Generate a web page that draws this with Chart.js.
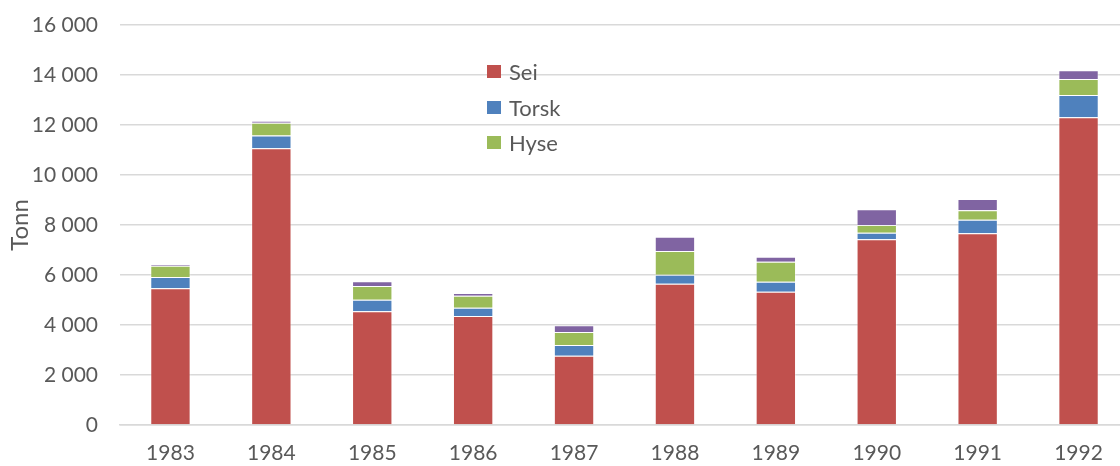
<!DOCTYPE html>
<html>
<head>
<meta charset="utf-8">
<script src="https://cdn.jsdelivr.net/npm/chart.js@4/dist/chart.umd.min.js"></script>
<style>
    html, body { margin: 0; padding: 0; background: #ffffff; overflow: hidden; }
    #wrap { position: relative; width: 1130px; height: 466px; }
    #legend { position: absolute; left: 487px; top: 54px; font-family: 'Lato', sans-serif; font-size: 22px; color: #595959; }
    .lg-item { display: flex; align-items: center; height: 35.5px; }
    .lg-box { width: 14px; height: 13px; margin-right: 8px; }
</style>
</head>
<body>
<div id="wrap">
    <canvas id="chart" width="1130" height="466"></canvas>
    <div id="legend"></div>
</div>
<script>
const years = ['1983', '1984', '1985', '1986', '1987', '1988', '1989', '1990', '1991', '1992'];
const sei   = [5470, 11070, 4550, 4360, 2770, 5650, 5330, 7430, 7670, 12310];
const torsk = [450, 510, 465, 330, 430, 360, 400, 265, 545, 890];
const hyse  = [450, 510, 545, 480, 520, 950, 800, 305, 375, 640];
const andre = [55, 80, 190, 110, 270, 570, 200, 630, 450, 350];
const yTicks = [0, 2000, 4000, 6000, 8000, 10000, 12000, 14000, 16000];
const legendNames = ['Sei', 'Torsk', 'Hyse'];

const colors = {
    sei: '#C0504D',
    torsk: '#4F81BD',
    hyse: '#9BBB59',
    andre: '#8064A2',
    text: '#595959',
    grid: '#d9d9d9'
};

Chart.defaults.font.family = "'Lato', sans-serif";
Chart.defaults.color = colors.text;

function fmt(v) {
    return String(v).replace(/\B(?=(\d{3})+(?!\d))/g, ' ');
}

function makeSet(label, data, color) {
    return {
        label: label,
        data: data,
        backgroundColor: color,
        borderColor: 'rgba(255,255,255,0.35)',
        borderWidth: 1,
        categoryPercentage: 1,
        barPercentage: 0.4
    };
}

const ctx = document.getElementById('chart').getContext('2d');
new Chart(ctx, {
    type: 'bar',
    data: {
        labels: years,
        datasets: [
            makeSet('Sei', sei, colors.sei),
            makeSet('Torsk', torsk, colors.torsk),
            makeSet('Hyse', hyse, colors.hyse),
            makeSet('Andre', andre, colors.andre)
        ]
    },
    options: {
        responsive: false,
        animation: false,
        layout: { padding: { top: 25, right: 1, left: 0, bottom: 0 } },
        plugins: {
            legend: { display: false },
            tooltip: { enabled: false }
        },
        scales: {
            x: {
                stacked: true,
                grid: { display: false },
                border: { display: true, color: colors.grid, width: 1.5 },
                ticks: { color: colors.text, font: { size: 21 }, padding: 8 },
                afterFit: s => { s.height = 41; }
            },
            y: {
                stacked: true,
                min: 0,
                max: 16000,
                afterBuildTicks: s => { s.ticks = yTicks.map(v => ({ value: v })); },
                grid: { color: colors.grid, lineWidth: 1.5, drawTicks: false },
                border: { display: false },
                ticks: {
                    color: colors.text,
                    font: { size: 21 },
                    padding: 22,
                    callback: v => fmt(v)
                },
                title: {
                    display: true,
                    text: 'Tonn',
                    color: colors.text,
                    font: { size: 24 },
                    padding: { top: 6, bottom: 0 }
                },
                // fixed axis width; tick padding should not push the plot top down
                afterFit: s => {
                    s.width = 120;
                    s.paddingTop = 0;
                    s.paddingBottom = 0;
                }
            }
        }
    }
});

// legend inside the plot, only the three named series
const legendColors = [colors.sei, colors.torsk, colors.hyse];
document.getElementById('legend').innerHTML = legendNames.map((name, i) =>
    `<div class="lg-item"><span class="lg-box" style="background:${legendColors[i]}"></span>${name}</div>`
).join('');
</script>
</body>
</html>
